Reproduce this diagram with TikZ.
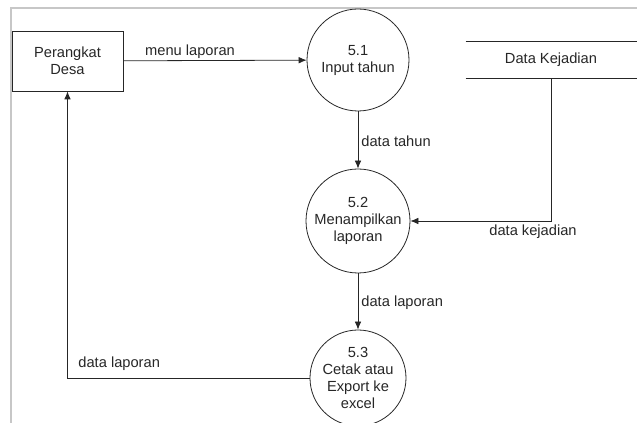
\documentclass[tikz,border=0pt]{standalone}
\usepackage{fontspec}
\setmainfont{Liberation Sans}
\usetikzlibrary{arrows.meta}

\tikzset{
  teks/.style={font=\fontsize{11}{12.75}\selectfont, text=black!85, align=center, inner sep=0pt},
  proses/.style={teks, draw, circle},
  entitas/.style={teks, draw, rectangle, minimum width=83.25pt, minimum height=45pt},
  simpan/.style={teks, minimum width=127.5pt, minimum height=27pt},
  alir/.style={-{Latex[length=6pt, width=5pt]}, line width=0.6pt}
}

\begin{document}
\begin{tikzpicture}[x=0.75pt, y=-0.75pt, line width=0.6pt, draw=black!85]
    \useasboundingbox (0,0) rectangle (637,423);
    % bingkai halaman
    \draw[black!22, line width=0.8pt] (11,440) -- (11,8) -- (660,8);

    \node[entitas] (desa) at (67.5,61) {Perangkat\\Desa};
    \node[proses, minimum size=76.5pt] (p1) at (358,60) {5.1\\Input tahun};
    \node[proses, minimum size=78pt] (p2) at (358,221) {5.2\\Menampilkan\\laporan};
    \node[proses, minimum size=72pt] (p3) at (358,378) {5.3\\Cetak atau\\Export ke\\excel};

    \node[simpan] (kej) at (551,60) {Data Kejadian};
    \draw (kej.north west) -- ++(200,0);
    \draw (kej.south west) -- ++(200,0);

    \draw[alir] (desa) -- (p1);
    \draw[alir] (p1) -- (p2);
    \draw[alir] (kej.south) |- (p2.east);
    \draw[alir] (p2) -- (p3);
    \draw[alir] (p3.west) -| (desa.south);

    \node[teks] (lmenu) at (190,52) {menu laporan};
    \node[teks, anchor=west] (ltahun) at (361,141) {data tahun};
    \node[teks] (lkej) at (533,232) {data kejadian};
    \node[teks, anchor=west] (llap1) at (361,303) {data laporan};
    \node[teks, anchor=west] (llap2) at (78,364) {data laporan};
\end{tikzpicture}
\end{document}
